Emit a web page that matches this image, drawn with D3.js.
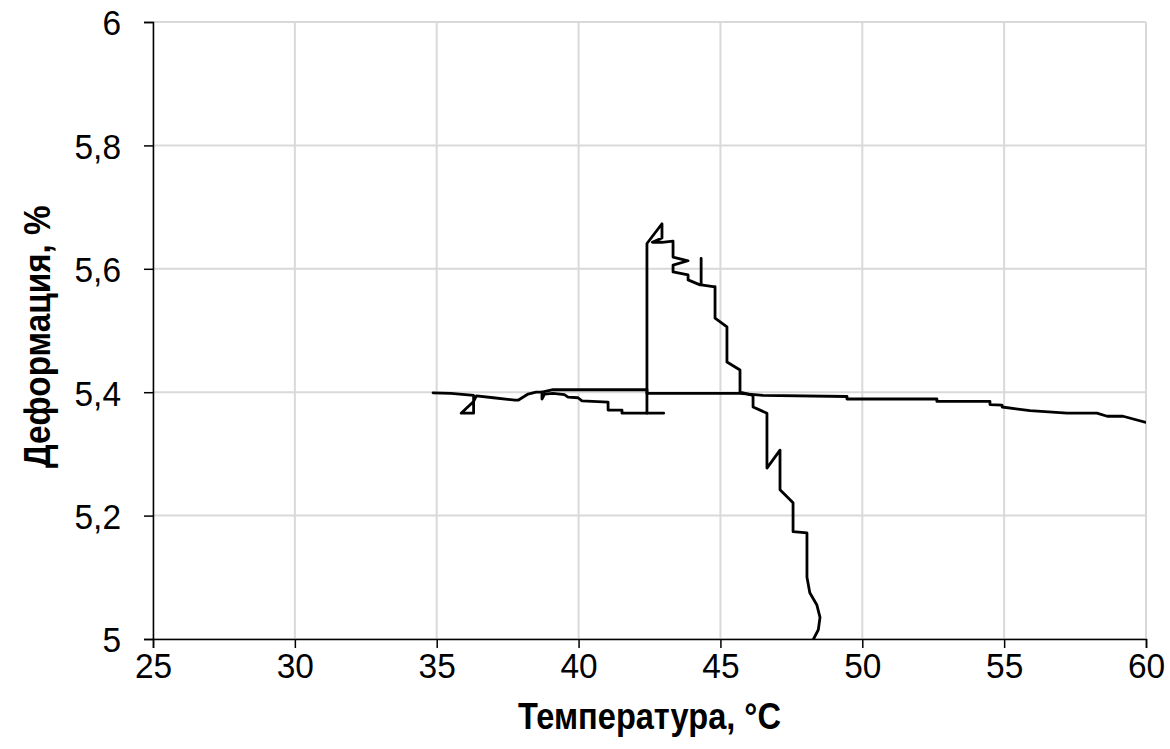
<!DOCTYPE html>
<html>
<head>
<meta charset="utf-8">
<script src="https://cdn.jsdelivr.net/npm/d3@7"></script>
<style>
    body { margin: 0; background: #fff; }
    text { font-family: "Liberation Sans", Arial, sans-serif; }
</style>
</head>
<body>
<script>
const xTicks = [25, 30, 35, 40, 45, 50, 55, 60];
const yTicks = [5, 5.2, 5.4, 5.6, 5.8, 6];

// lower heating branch with the small loops
const tempA = [34.87, 35.5, 36.3, 36.3, 35.86, 36.3, 36.4, 37.0, 37.76, 37.87, 38.22, 38.5, 38.71, 38.71, 38.8, 39.1, 39.5, 39.63, 39.98, 40.12, 41.04, 41.04, 41.53, 41.53, 43.0];
const strainA = [5.399, 5.398, 5.395, 5.366, 5.366, 5.385, 5.394, 5.391, 5.387, 5.387, 5.397, 5.400, 5.400, 5.389, 5.397, 5.398, 5.396, 5.392, 5.391, 5.386, 5.384, 5.371, 5.371, 5.366, 5.366];

// jump up, peak and the stepwise drop
const tempB = [42.41, 42.41, 42.94, 42.94, 42.6, 42.94, 43.33, 43.33, 43.86, 43.33, 43.33, 43.86, 43.86, 44.28, 44.32, 44.32, 44.32, 44.74, 44.81, 44.81, 45.23, 45.23, 45.69, 45.69, 46.15, 46.15, 46.64, 46.64, 47.10, 47.10, 47.56, 47.56, 48.05, 48.05, 48.15, 48.40, 48.51, 48.45, 48.26];
const strainB = [5.366, 5.641, 5.673, 5.650, 5.643, 5.643, 5.645, 5.619, 5.613, 5.606, 5.595, 5.590, 5.582, 5.574, 5.574, 5.617, 5.574, 5.571, 5.571, 5.520, 5.506, 5.449, 5.436, 5.400, 5.395, 5.376, 5.366, 5.277, 5.306, 5.242, 5.221, 5.174, 5.172, 5.100, 5.075, 5.055, 5.035, 5.015, 4.998];

// upper horizontal branch up to 60 °C
const tempC = [38.71, 39.1, 42.41, 42.41, 45.69, 46.5, 49.46, 49.46, 52.63, 52.63, 54.50, 54.50, 54.93, 54.93, 55.91, 57.22, 58.27, 58.63, 59.19, 60.0];
const strainC = [5.400, 5.404, 5.404, 5.398, 5.398, 5.395, 5.393, 5.389, 5.389, 5.385, 5.385, 5.380, 5.379, 5.376, 5.370, 5.366, 5.366, 5.361, 5.361, 5.351];

const width = 1170;
const height = 749;
const margin = { left: 153, right: 24, top: 22, bottom: 110 };
const squeeze = 0.93; // text in the picture is a bit narrow

const svg = d3.select("body")
    .append("svg")
    .attr("width", width)
    .attr("height", height);

const x = d3.scaleLinear().domain([25, 60]).range([margin.left, width - margin.right]);
const y = d3.scaleLinear().domain([5, 6]).range([height - margin.bottom, margin.top]);

// grid
svg.append("g")
    .selectAll("line")
    .data(xTicks)
    .join("line")
    .attr("x1", d => x(d)).attr("x2", d => x(d))
    .attr("y1", y(5)).attr("y2", y(6))
    .style("stroke", "#d9d9d9")
    .style("stroke-width", 2);

svg.append("g")
    .selectAll("line")
    .data(yTicks)
    .join("line")
    .attr("x1", x(25)).attr("x2", x(60))
    .attr("y1", d => y(d)).attr("y2", d => y(d))
    .style("stroke", "#d9d9d9")
    .style("stroke-width", 2);

// axes
const xAxis = svg.append("g")
    .attr("transform", "translate(0," + y(5) + ")")
    .call(d3.axisBottom(x).tickValues(xTicks).tickSize(9).tickPadding(8).tickFormat(d3.format("d")));

const yAxis = svg.append("g")
    .attr("transform", "translate(" + x(25) + ",0)")
    .call(d3.axisLeft(y).tickValues(yTicks).tickSize(9).tickPadding(12)
        .tickFormat(d => d3.format("~g")(d).replace(".", ",")));

[xAxis, yAxis].forEach(function (a) {
    a.select(".domain").style("stroke", "#000").style("stroke-width", 1.5);
    a.selectAll(".tick line").style("stroke", "#000").style("stroke-width", 1.5);
    a.selectAll(".tick text")
        .style("font-family", "'Liberation Sans', Arial, sans-serif")
        .style("font-size", "36px")
        .style("fill", "#000");
});

xAxis.selectAll(".tick text")
    .attr("y", 13)
    .attr("transform", "scale(" + squeeze + ",1)");

yAxis.selectAll(".tick text")
    .attr("x", -32 / squeeze)
    .attr("dy", "0.36em")
    .attr("transform", "scale(" + squeeze + ",1)");

// clip for data lines
svg.append("clipPath")
    .attr("id", "plot")
    .append("rect")
    .attr("x", x(25)).attr("y", y(6))
    .attr("width", x(60) - x(25))
    .attr("height", y(5) - y(6));

const line = d3.line()
    .x(d => x(d[0]))
    .y(d => y(d[1]));

const series = [
    d3.zip(tempA, strainA),
    d3.zip(tempB, strainB),
    d3.zip(tempC, strainC)
];

svg.append("g")
    .attr("clip-path", "url(#plot)")
    .selectAll("path")
    .data(series)
    .join("path")
    .attr("d", line)
    .style("fill", "none")
    .style("stroke", "#000")
    .style("stroke-width", 2.8)
    .style("stroke-linejoin", "round")
    .style("stroke-linecap", "round");

// axis titles
const cx = (x(25) + x(60)) / 2;
svg.append("text")
    .attr("transform", "translate(" + cx + ",729) scale(0.88,1)")
    .attr("text-anchor", "middle")
    .style("font-weight", "bold")
    .style("font-size", "37px")
    .text("Температура, °C");

svg.append("text")
    .attr("transform", "translate(50," + y(5.49) + ") rotate(-90) scale(0.9,1)")
    .attr("text-anchor", "middle")
    .style("font-weight", "bold")
    .style("font-size", "37px")
    .text("Деформация, %");
</script>
</body>
</html>
